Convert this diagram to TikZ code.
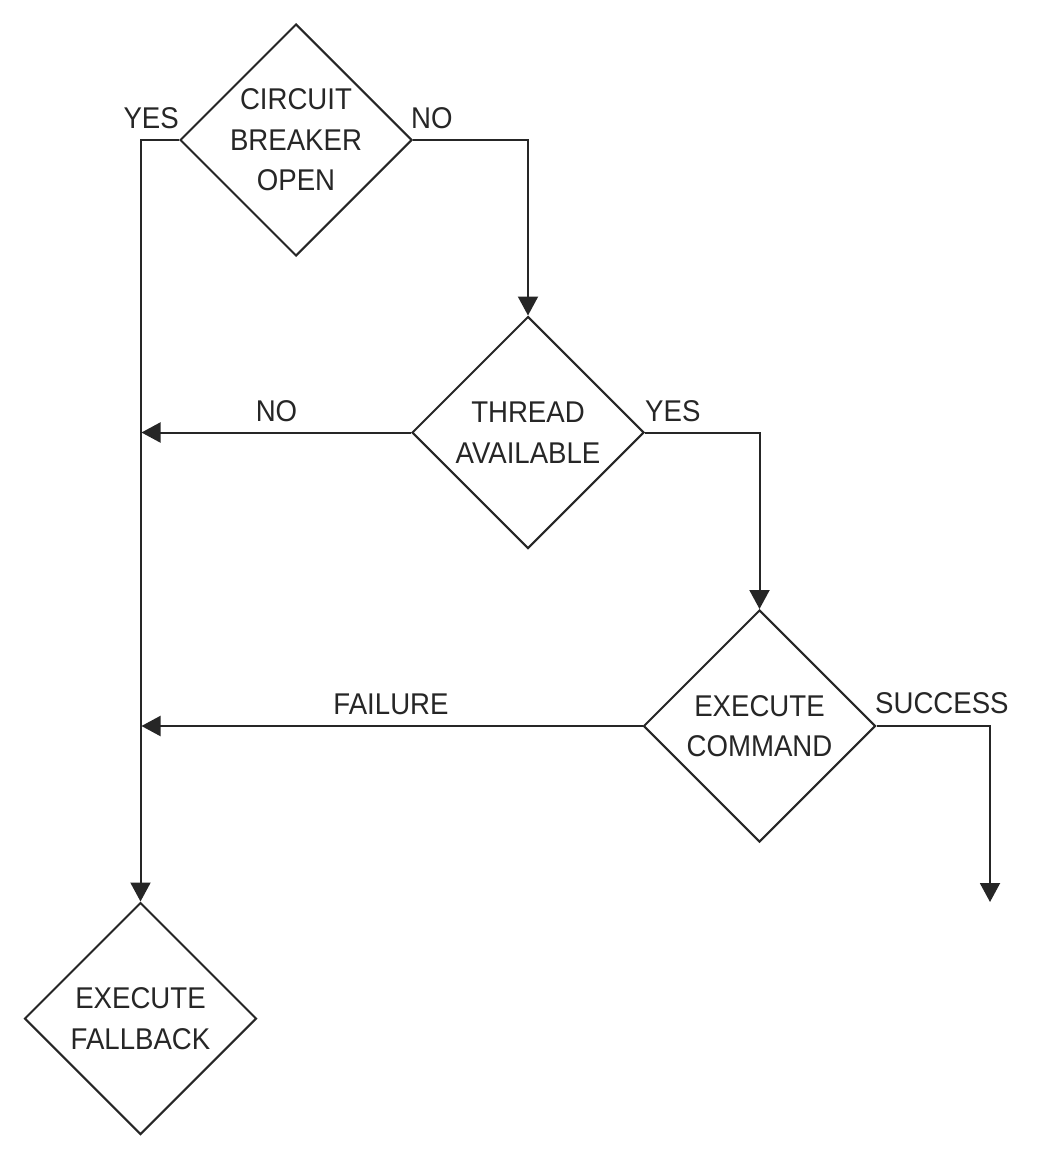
\documentclass[tikz,border=0pt]{standalone}
\usepackage{fontspec}
\setmainfont{Liberation Sans}[FakeStretch=0.92]
\usetikzlibrary{shapes.geometric,arrows.meta}
\definecolor{ink}{HTML}{262626}
\begin{document}
\begin{tikzpicture}[x=1pt,y=-1pt,
  decision/.style={draw=ink,line width=2pt,shape=diamond,aspect=1,minimum width=232pt,minimum height=232pt,inner sep=0pt},
  txt/.style={text=ink,inner sep=0pt,align=center,font=\fontsize{30}{40.5}\selectfont},
  lbl/.style={text=ink,inner sep=0pt,font=\fontsize{30}{36}\selectfont},
  flow/.style={draw=ink,line width=2pt,-{Triangle[length=19pt,width=20pt]}}]
\useasboundingbox[fill=white] (0,0) rectangle (1038,1159);
\node[decision] (d1) at (296,140) {};
\node[decision] (d2) at (528,432.5) {};
\node[decision] (d3) at (759.5,726) {};
\node[decision] (d4) at (140.5,1018.5) {};
\node[txt] (t1) at (d1.center) {CIRCUIT\\BREAKER\\OPEN};
\node[txt] (t2) at (d2.center) {THREAD\\AVAILABLE};
\node[txt] (t3) at (d3.center) {EXECUTE\\COMMAND};
\node[txt] (t4) at (d4.center) {EXECUTE\\FALLBACK};
\coordinate (end) at (990,902);
\draw[flow] (d1.west) -| (d4.north);
\draw[flow] (d1.east) -| (d2.north);
\draw[flow] (d2.west) -- ([xshift=1pt]d4.north |- d2.west);
\draw[flow] (d2.east) -| (d3.north);
\draw[flow] (d3.west) -- ([xshift=1pt]d4.north |- d3.west);
\draw[flow] (d3.east) -| (end);
\node[lbl,anchor=base east] (l1) at (179,128) {YES};
\node[lbl,anchor=base west] (l2) at (411,128) {NO};
\node[lbl,anchor=base] (l3) at (276.5,421) {NO};
\node[lbl,anchor=base west] (l4) at (645,421) {YES};
\node[lbl,anchor=base] (l5) at (391,714) {FAILURE};
\node[lbl,anchor=base west] (l6) at (875,713) {SUCCESS};
\end{tikzpicture}
\end{document}
